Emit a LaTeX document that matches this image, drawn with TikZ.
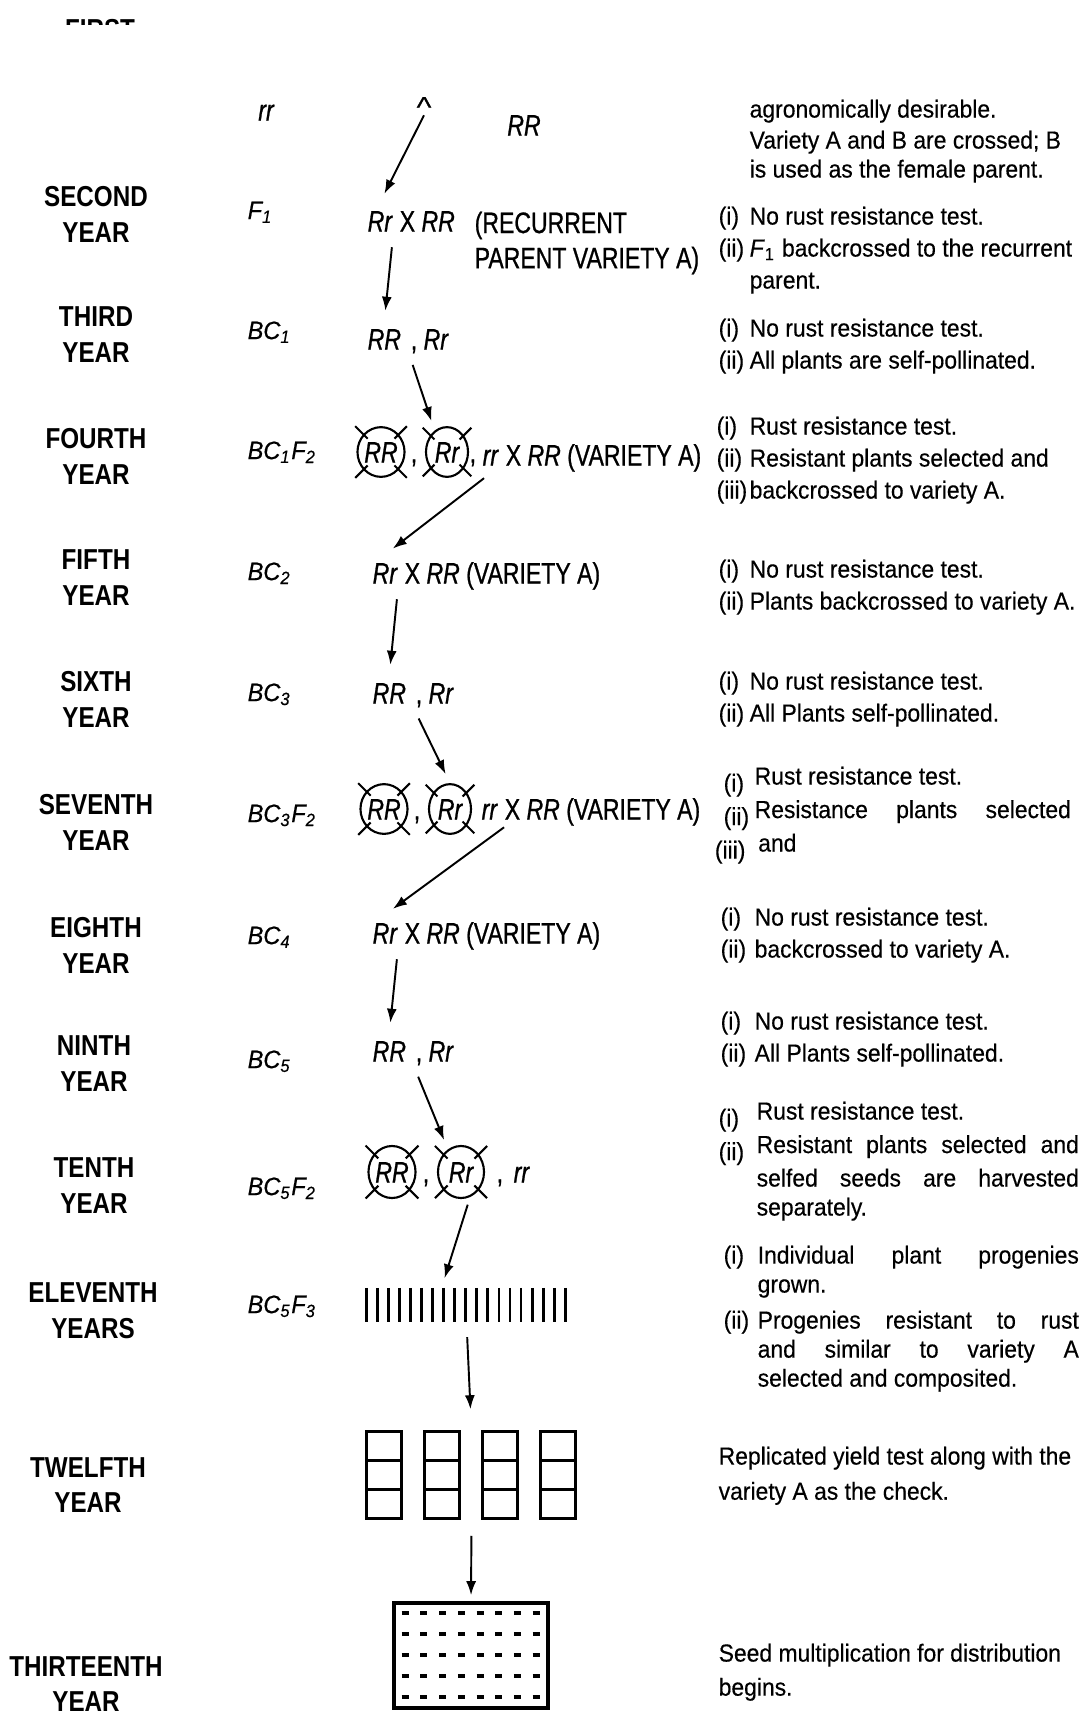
\documentclass[tikz,border=0pt]{standalone}
\usepackage{fontspec}
\setmainfont[FakeStretch=0.93,FakeBold=0.4]{Liberation Sans}
\newfontfamily\yearfont[FakeStretch=0.84]{Liberation Sans}
\newfontfamily\genofont[FakeStretch=0.78,FakeBold=0.8]{Liberation Sans}
\usetikzlibrary{arrows.meta,positioning,calc,shapes.geometric}
\newcommand{\genosize}{\genofont\fontsize{8.4pt}{10pt}\selectfont}
\newcommand{\lbl}[2][3.1mm]{\makebox[#1][l]{#2}}

\begin{document}
\begin{tikzpicture}[x=0.01cm,y=-0.01cm,
  yearlbl/.style={font=\yearfont\bfseries\fontsize{8.2pt}{10.2pt}\selectfont,align=center,inner sep=0},
  stage/.style={font=\itshape\fontsize{7.2pt}{8pt}\selectfont,anchor=west,inner sep=0,text height=5.2pt,text depth=0pt},
  geno/.style={font=\genosize\itshape,inner xsep=0,inner ysep=2pt,text height=6pt,text depth=0pt},
  selfed/.style={geno,ellipse,draw,line width=0.6pt,minimum width=4.2mm,minimum height=4.5mm},
  note/.style={font=\fontsize{7pt}{9.1pt}\selectfont,anchor=north west,align=left,inner sep=0},
  tight/.style={note,font=\fontsize{7pt}{8.25pt}\selectfont},
  arr/.style={-{Latex[length=1.4mm,width=1mm]},line width=0.55pt,shorten <=0.8mm,shorten >=1mm},
]
\useasboundingbox (0,0) rectangle (1089,1730);

% year column
\node[yearlbl] (yr1) at (100,47) {FIRST\\YEAR};
\node[yearlbl] (yr2) at (96,214) {SECOND\\YEAR};
\node[yearlbl] (yr3) at (96,335) {THIRD\\YEAR};
\node[yearlbl] (yr4) at (96,456) {FOURTH\\YEAR};
\node[yearlbl] (yr5) at (96,578) {FIFTH\\YEAR};
\node[yearlbl] (yr6) at (96,699) {SIXTH\\YEAR};
\node[yearlbl] (yr7) at (96,822) {SEVENTH\\YEAR};
\node[yearlbl] (yr8) at (96,945) {EIGHTH\\YEAR};
\node[yearlbl] (yr9) at (94,1064) {NINTH\\YEAR};
\node[yearlbl] (yr10) at (94,1186) {TENTH\\YEAR};
\node[yearlbl] (yr11) at (93,1311) {ELEVENTH\\YEARS};
\node[yearlbl] (yr12) at (88,1485) {TWELFTH\\YEAR};
\node[yearlbl] (yr13) at (86,1684) {THIRTEENTH\\YEAR};

% generation column
\node[geno] (p1a) at (266,110) {rr};
\node[stage] (s2) at (247,210) {F\textsubscript{1}};
\node[stage] (s3) at (247,330) {BC\textsubscript{1}};
\node[stage] (s4) at (247,450) {BC\textsubscript{1}F\textsubscript{2}};
\node[stage] (s5) at (247,571) {BC\textsubscript{2}};
\node[stage] (s6) at (247,692) {BC\textsubscript{3}};
\node[stage] (s7) at (247,813) {BC\textsubscript{3}F\textsubscript{2}};
\node[stage] (s8) at (247,935) {BC\textsubscript{4}};
\node[stage] (s9) at (247,1059) {BC\textsubscript{5}};
\node[stage] (s10) at (247,1186) {BC\textsubscript{5}F\textsubscript{2}};
\node[stage] (s11) at (247,1304) {BC\textsubscript{5}F\textsubscript{3}};

% crosses
\node[geno] (x1) at (424,97) {\upshape X};
\node[geno] (p1b) at (524,125) {RR};
\fill[white] (0,25) rectangle (1089,97);

\node[geno,anchor=west] (r2) at (367,221) {Rr};
\node[geno,right=1.8pt of r2] (x2) {\upshape X \itshape RR};
\node[anchor=west,align=left,inner sep=0,font=\genosize] (rec2) at (474,243) {(RECURRENT\\PARENT VARIETY A)};

\node[geno,anchor=west] (rr3) at (367,339) {RR};
\node[geno,right=2.4pt of rr3] (rh3) {{\upshape,} Rr};

\node[selfed] (c4a) at (381,452) {RR};
\node[selfed] (c4b) at (447,452) {Rr};
\node[geno] (k4a) at (414,452) {\upshape,};
\node[geno,anchor=west] (k4b) at (469,452) {\upshape,};
\node[geno,anchor=west] (rr4) at (482,455) {rr};
\node[geno,right=1.8pt of rr4] (x4) {\upshape X \itshape RR \upshape(VARIETY A)};

\node[geno,anchor=west] (r5) at (372,573) {Rr};
\node[geno,right=1.8pt of r5] (x5) {\upshape X \itshape RR \upshape(VARIETY A)};

\node[geno,anchor=west] (rr6) at (372,693) {RR};
\node[geno,right=2.4pt of rr6] (rh6) {{\upshape,} Rr};

\node[selfed] (c7a) at (384,809) {RR};
\node[selfed] (c7b) at (450,809) {Rr};
\node[geno] (k7a) at (417,809) {\upshape,};
\node[geno,anchor=west] (rr7) at (481,809) {rr};
\node[geno,right=1.8pt of rr7] (x7) {\upshape X \itshape RR \upshape(VARIETY A)};

\node[geno,anchor=west] (r8) at (372,933) {Rr};
\node[geno,right=1.8pt of r8] (x8) {\upshape X \itshape RR \upshape(VARIETY A)};

\node[geno,anchor=west] (rr9) at (372,1051) {RR};
\node[geno,right=2.4pt of rr9] (rh9) {{\upshape,} Rr};

\node[selfed,minimum width=4.6mm,minimum height=5.2mm] (c10a) at (392,1172) {RR};
\node[selfed,minimum width=4.6mm,minimum height=5.2mm] (c10b) at (461,1172) {Rr};
\node[geno] (k10a) at (426,1172) {\upshape,};
\node[geno,anchor=west] (k10b) at (496,1172) {\upshape,};
\node[geno,anchor=west] (rr10) at (513,1172) {rr};

\foreach \c in {c4a,c4b,c7a,c7b,c10a,c10b}
  \foreach \a in {45,135,225,315}
    \draw[line width=0.6pt] ($(\c.center)!0.75!(\c.\a)$) -- ($(\c.center)!1.45!(\c.\a)$);

% progeny rows, yield plots, multiplication plot
\node[minimum width=19.9mm,minimum height=3.3mm,inner sep=0] (prog11) at (466.5,1305) {};
\foreach \i in {0,...,18}
  \draw[line width=0.8pt] ($(prog11.north west)+(\i*11.06,0)$) -- ($(prog11.south west)+(\i*11.06,0)$);

\node[minimum width=20.9mm,minimum height=8.7mm,inner sep=0] (plots12) at (471.5,1475.5) {};
\foreach \b in {0,1,2,3} {
  \draw[line width=0.9pt] ($(plots12.north west)+(\b*58,0)$) rectangle +(35,87);
  \draw[line width=0.9pt] ($(plots12.north west)+(\b*58,29)$) -- +(35,0);
  \draw[line width=0.9pt] ($(plots12.north west)+(\b*58,58)$) -- +(35,0);
}

\node[draw,line width=1pt,minimum width=15.4mm,minimum height=10.5mm,inner sep=0] (field13) at (471,1655.5) {};
\foreach \i in {0,...,7}
  \foreach \j in {0,...,4}
    \draw[line width=1.1pt] ($(field13.north west)+(9.5+\i*18.7,12+\j*21)$) -- +(7,0);

% arrows
\draw[arr,shorten <=0pt] (x1.south) -- (r2.north);
\draw[arr] (r2.south east) -- (rr3.north);
\draw[arr] (rh3.south west) -- (c4b.120);
\draw[arr] (rr4.south) -- (r5.north);
\draw[arr] (r5.south east) -- (rr6.north);
\draw[arr] (rh6.south west) -- (c7b.north);
\draw[arr,shorten <=0pt] (x7.south west) -- (r8.north);
\draw[arr] (r8.south east) -- (rr9.north);
\draw[arr] (rh9.south west) -- (c10b.120);
\draw[arr] (c10b.-70) -- ($(prog11.north)+(-25,0)$);
\draw[arr,shorten <=1.5mm,shorten >=2.2mm] (prog11.south) -- (plots12.north);
\draw[arr,shorten <=1.6mm,shorten >=0.6mm] (plots12.south) -- (field13.north);

% notes
\node[note] (n1a) at (749,99) {agronomically desirable.};
\node[tight] (n1b) at (749,130) {Variety A and B are crossed; B\\is used as the female parent.};
\node[note] (n2) at (718,206) {\lbl{(i)}No rust resistance test.\\\lbl{(ii)}\textit{F}\textsubscript{1} backcrossed to the recurrent\\\hspace*{3.1mm}parent.};
\node[note] (n3) at (718,318) {\lbl{(i)}No rust resistance test.\\\lbl{(ii)}All plants are self-pollinated.};
\node[note] (n4) at (716,416) {\lbl[3.3mm]{(i)}Rust resistance test.\\\lbl[3.3mm]{(ii)}Resistant plants selected and\\\lbl[3.3mm]{(iii)}backcrossed to variety A.};
\node[note] (n5) at (718,559) {\lbl{(i)}No rust resistance test.\\\lbl{(ii)}Plants backcrossed to variety A.};
\node[note] (n6) at (718,671) {\lbl{(i)}No rust resistance test.\\\lbl{(ii)}All Plants self-pollinated.};
\node[tight] (n7) at (723,766) {\lbl{\raisebox{-2pt}{(i)}}Rust resistance test.\\
  \lbl{\raisebox{-2pt}{(ii)}}\makebox[31.6mm][s]{Resistance plants selected}\\
  \lbl{\raisebox{-2pt}{\hspace*{-2.5pt}(iii)}}\hspace*{1pt}and};
\node[note] (n8) at (720,907) {\lbl[3.4mm]{(i)}No rust resistance test.\\\lbl[3.4mm]{(ii)}backcrossed to variety A.};
\node[note] (n9) at (720,1011) {\lbl[3.4mm]{(i)}No rust resistance test.\\\lbl[3.4mm]{(ii)}All Plants self-pollinated.};
\node[tight] (n10) at (718,1101) {\lbl[3.8mm]{\raisebox{-2pt}{(i)}}Rust resistance test.\\
  \lbl[3.8mm]{\raisebox{-2pt}{(ii)}}\makebox[32.2mm][s]{Resistant plants selected and}\\
  \hspace*{3.8mm}\makebox[32.2mm][s]{selfed seeds are harvested}\\
  \hspace*{3.8mm}separately.};
\node[tight] (n11) at (723,1245) {\lbl[3.4mm]{(i)}\makebox[32.1mm][s]{Individual plant progenies}\\
  \hspace*{3.4mm}grown.\\[2pt]
  \lbl[3.4mm]{(ii)}\makebox[32.1mm][s]{Progenies resistant to rust}\\
  \hspace*{3.4mm}\makebox[32.1mm][s]{and similar to variety A}\\
  \hspace*{3.4mm}selected and composited.};
\node[note,font=\fontsize{7pt}{10pt}\selectfont] (n12) at (718,1446) {Replicated yield test along with the\\variety A as the check.};
\node[note,font=\fontsize{7pt}{9.7pt}\selectfont] (n13) at (718,1643) {Seed multiplication for distribution\\begins.};
\end{tikzpicture}
\end{document}
